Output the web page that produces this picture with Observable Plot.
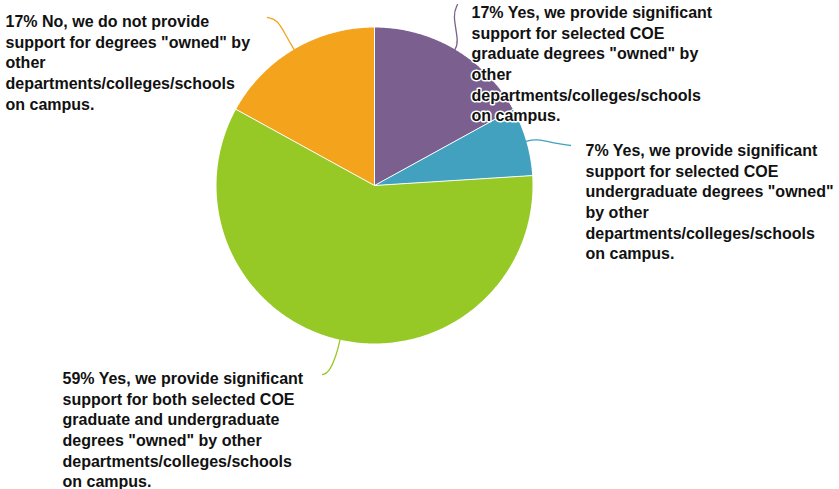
<!DOCTYPE html>
<html><head><meta charset="utf-8">
<script src="https://cdn.jsdelivr.net/npm/d3@7"></script>
<script src="https://cdn.jsdelivr.net/npm/@observablehq/plot@0.6"></script>
<style>body{margin:0;background:#fff} svg{display:block}</style>
</head><body><div id="chart"></div>
<script>
// ---- data ----
const categories = [
  "Yes, graduate",
  "Yes, undergraduate",
  "Yes, both",
  "No"
];
const percents = [17, 7, 59, 17];
const labelLines = [
  ["17% Yes, we provide significant", "support for selected COE", "graduate degrees \"owned\" by", "other", "departments/colleges/schools", "on campus."],
  ["7% Yes, we provide significant", "support for selected COE", "undergraduate degrees \"owned\"", "by other", "departments/colleges/schools", "on campus."],
  ["59% Yes, we provide significant", "support for both selected COE", "graduate and undergraduate", "degrees \"owned\" by other", "departments/colleges/schools", "on campus."],
  ["17% No, we do not provide", "support for degrees \"owned\" by", "other", "departments/colleges/schools", "on campus."]
];
const colors = ["#7b5f8e", "#41a1bf", "#97c926", "#f4a41c"];

// ---- layout ----
const W = 839, H = 489, cx = 374, cy = 185, R = 158;
const labelPos = [[471, 3], [585, 141], [62, 369], [5, 12]];
const leaderEnd = [[457, 4], [570, 145], [322, 374], [267, 17]];
const leaderTail = [[-5, 10], [-14, -2], [6, -1], [10, 2]];
const leaderOut = [8, 10, 15, 15];

const pie = d3.pie().sort(null).value(d => d)(percents);

const slicePts = [];
pie.forEach((a, i) => {
  slicePts.push({cat: categories[i], x: cx, y: cy});
  const n = Math.max(2, Math.ceil((a.endAngle - a.startAngle) / 0.01));
  for (let k = 0; k <= n; k++) {
    const t = a.startAngle + (a.endAngle - a.startAngle) * k / n;
    slicePts.push({cat: categories[i], x: cx + R * Math.sin(t), y: cy - R * Math.cos(t)});
  }
});

const seps = [];
pie.forEach((a, i) => {
  seps.push({i, x: cx, y: cy});
  seps.push({i, x: cx + R * Math.sin(a.startAngle), y: cy - R * Math.cos(a.startAngle)});
});

const leaders = [];
pie.forEach((a, i) => {
  const m = (a.startAngle + a.endAngle) / 2;
  const dx = Math.sin(m), dy = -Math.cos(m);
  const [ex, ey] = leaderEnd[i];
  const [tx, ty] = leaderTail[i];
  leaders.push({cat: categories[i], x: cx + (R - 1) * dx, y: cy + (R - 1) * dy});
  leaders.push({cat: categories[i], x: cx + (R + leaderOut[i]) * dx, y: cy + (R + leaderOut[i]) * dy});
  leaders.push({cat: categories[i], x: ex + tx, y: ey + ty});
  leaders.push({cat: categories[i], x: ex, y: ey});
});

const labels = labelLines.map((lines, i) => ({x: labelPos[i][0], y: labelPos[i][1], text: lines.join("\n")}));

const chart = Plot.plot({
  width: W, height: H, margin: 0,
  x: {domain: [0, W], range: [0, W], axis: null},
  y: {domain: [0, H], range: [0, H], axis: null},
  color: {domain: categories, range: colors},
  marks: [
    Plot.line(slicePts, {x: "x", y: "y", z: "cat", fill: "cat", stroke: "none"}),
    Plot.line(seps, {x: "x", y: "y", z: "i", stroke: "white", strokeWidth: 1}),
    Plot.line(leaders, {x: "x", y: "y", z: "cat", stroke: "cat", strokeWidth: 1.3, curve: "basis"}),
    Plot.text(labels, {x: "x", y: "y", text: "text", textAnchor: "start", lineAnchor: "top", lineHeight: 1.29,
      fontSize: 16, fontWeight: "bold", fontFamily: "Liberation Sans, Arial, sans-serif",
      fill: "#111", stroke: "white", strokeWidth: 3, paintOrder: "stroke", strokeLinejoin: "round"})
  ]
});
document.getElementById("chart").append(chart);
</script>
</body></html>
